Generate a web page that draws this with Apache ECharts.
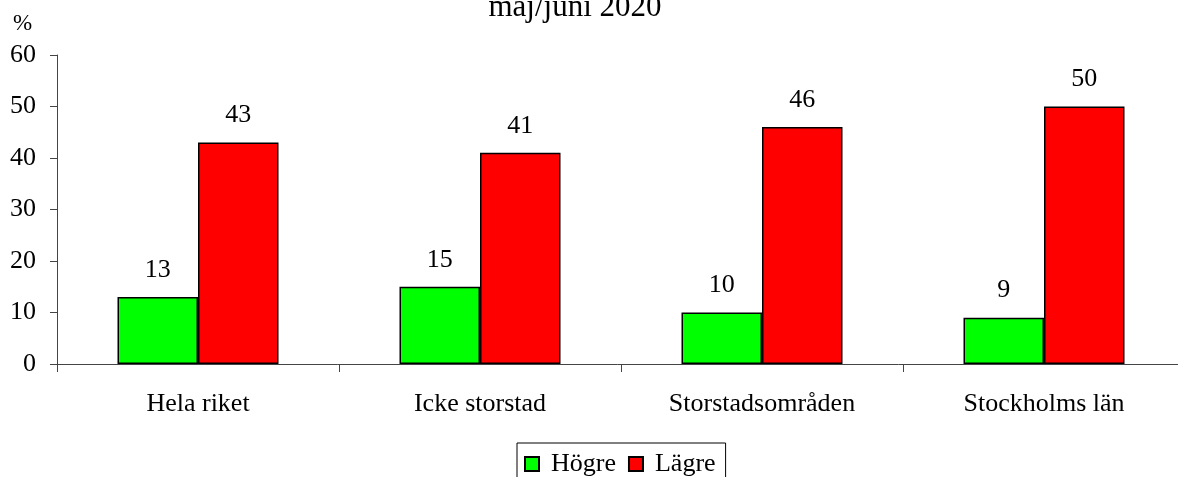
<!DOCTYPE html>
<html>
<head>
<meta charset="utf-8">
<script src="https://cdn.jsdelivr.net/npm/echarts@6/dist/echarts.min.js"></script>
<style>
html,body{margin:0;padding:0;background:#fff;}
#c{width:1178px;height:477px;}
</style>
</head>
<body>
<div id="c"></div>
<script>
const categories = ['Hela riket', 'Icke storstad', 'Storstadsområden', 'Stockholms län'];
const hogre = [13, 15, 10, 9];
const lagre = [43, 41, 46, 50];
const yTicks = [0, 10, 20, 30, 40, 50, 60];
const seriesNames = ['Högre', 'Lägre'];
const titleText = 'maj/juni 2020';
const unitText = '%';

const font = 'Liberation Serif, Times New Roman, serif';
const chart = echarts.init(document.getElementById('c'), null, {renderer: 'canvas'});
chart.setOption({
  animation: false,
  backgroundColor: '#ffffff',
  title: [
    {text: titleText, left: 575, top: -8, textAlign: 'center', padding: 0,
     textStyle: {fontFamily: font, fontSize: 31, fontWeight: 'normal', color: '#000'}},
    {text: unitText, left: 13, top: 12, padding: 0,
     textStyle: {fontFamily: font, fontSize: 23, fontWeight: 'normal', color: '#000'}}
  ],
  grid: {left: 57, width: 1128, top: 55, height: 309, containLabel: false, outerBoundsMode: 'none'},
  legend: {
    data: seriesNames,
    left: 517, top: 443,
    orient: 'horizontal',
    padding: [8, 10, 30, 7],
    borderColor: '#000', borderWidth: 1,
    itemWidth: 14, itemHeight: 14, itemGap: 12,
    icon: 'rect',
    textStyle: {fontFamily: font, fontSize: 26, color: '#000', padding: [0, 0, 0, 7]}
  },
  xAxis: {
    type: 'category',
    data: categories,
    axisLine: {lineStyle: {color: '#444', width: 1}},
    axisTick: {show: true, length: 8, lineStyle: {color: '#444'}},
    axisLabel: {fontFamily: font, fontSize: 26, color: '#000', margin: 27}
  },
  yAxis: {
    type: 'value',
    min: 0, max: 60, interval: 10,
    axisLine: {show: true, lineStyle: {color: '#444', width: 1}},
    axisTick: {show: true, length: 7, lineStyle: {color: '#444'}},
    splitLine: {show: false},
    axisLabel: {fontFamily: font, fontSize: 26, color: '#000', margin: 21,
      formatter: v => yTicks.includes(v) ? String(v) : ''}
  },
  series: [
    {name: seriesNames[0], type: 'bar', data: hogre, barWidth: 80.5, barGap: '0%',
     itemStyle: {color: '#00ff00', borderColor: '#000', borderWidth: 1.5},
     label: {show: true, position: 'top', distance: 14, fontFamily: font, fontSize: 26, color: '#000'}},
    {name: seriesNames[1], type: 'bar', data: lagre, barWidth: 80.5, barGap: '0%',
     itemStyle: {color: '#ff0000', borderColor: '#000', borderWidth: 1.5},
     label: {show: true, position: 'top', distance: 14, fontFamily: font, fontSize: 26, color: '#000'}}
  ]
});
</script>
</body>
</html>
